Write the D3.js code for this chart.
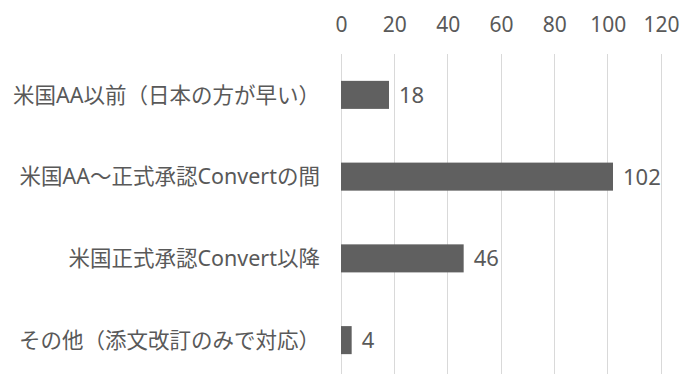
<!DOCTYPE html>
<html>
<head>
<meta charset="utf-8">
<script src="https://cdn.jsdelivr.net/npm/d3@7"></script>
<style>
  html, body { margin: 0; padding: 0; background: #fff; }
  svg { display: block; }
  text { font-family: "Noto Sans", "Noto Sans CJK JP", sans-serif; fill: #595959; }
</style>
</head>
<body>
<svg id="chart" width="683" height="374"></svg>
<script>
const categories = [
  "米国AA以前（日本の方が早い）",
  "米国AA～正式承認Convertの間",
  "米国正式承認Convert以降",
  "その他（添文改訂のみで対応）"
];
const values = [18, 102, 46, 4];
const tickValues = [0, 20, 40, 60, 80, 100, 120];

const svg = d3.select("#chart");
const x = d3.scaleLinear().domain([0, 120]).range([341, 661]);
const y = d3.scaleBand().domain(categories).range([54, 381])
  .paddingInner(0.657).paddingOuter(0.3285);

// gridlines
svg.append("g").selectAll("line").data(tickValues).join("line")
  .attr("x1", d => x(d)).attr("x2", d => x(d))
  .attr("y1", 54).attr("y2", 374)
  .attr("stroke", "#d9d9d9").attr("stroke-width", 1)
  .attr("shape-rendering", "crispEdges");

// top axis labels
const axis = d3.axisTop(x).tickValues(tickValues).tickSize(0).tickPadding(0);
const ag = svg.append("g").attr("transform", "translate(0,32)").call(axis);
ag.select(".domain").remove();
ag.selectAll("text").attr("dy", 0).style("font-size", "21px").style("fill", "#595959")
  .style("font-family", "'Noto Sans', 'Noto Sans CJK JP', sans-serif");

// bars
svg.append("g").selectAll("rect").data(values).join("rect")
  .attr("x", x(0))
  .attr("y", (d, i) => y(categories[i]))
  .attr("width", d => x(d) - x(0))
  .attr("height", y.bandwidth())
  .attr("fill", "#606060");

// value labels
svg.append("g").selectAll("text").data(values).join("text")
  .attr("x", d => x(d) + 10)
  .attr("y", (d, i) => y(categories[i]) + y.bandwidth() / 2)
  .attr("dy", "0.36em")
  .style("font-size", "22px")
  .text(d => d);

// category labels
svg.append("g").selectAll("text").data(categories).join("text")
  .attr("x", 320)
  .attr("y", d => y(d) + y.bandwidth() / 2)
  .attr("dy", "0.36em")
  .attr("text-anchor", "end")
  .style("font-size", "21.5px")
  .text(d => d);
</script>
</body>
</html>
